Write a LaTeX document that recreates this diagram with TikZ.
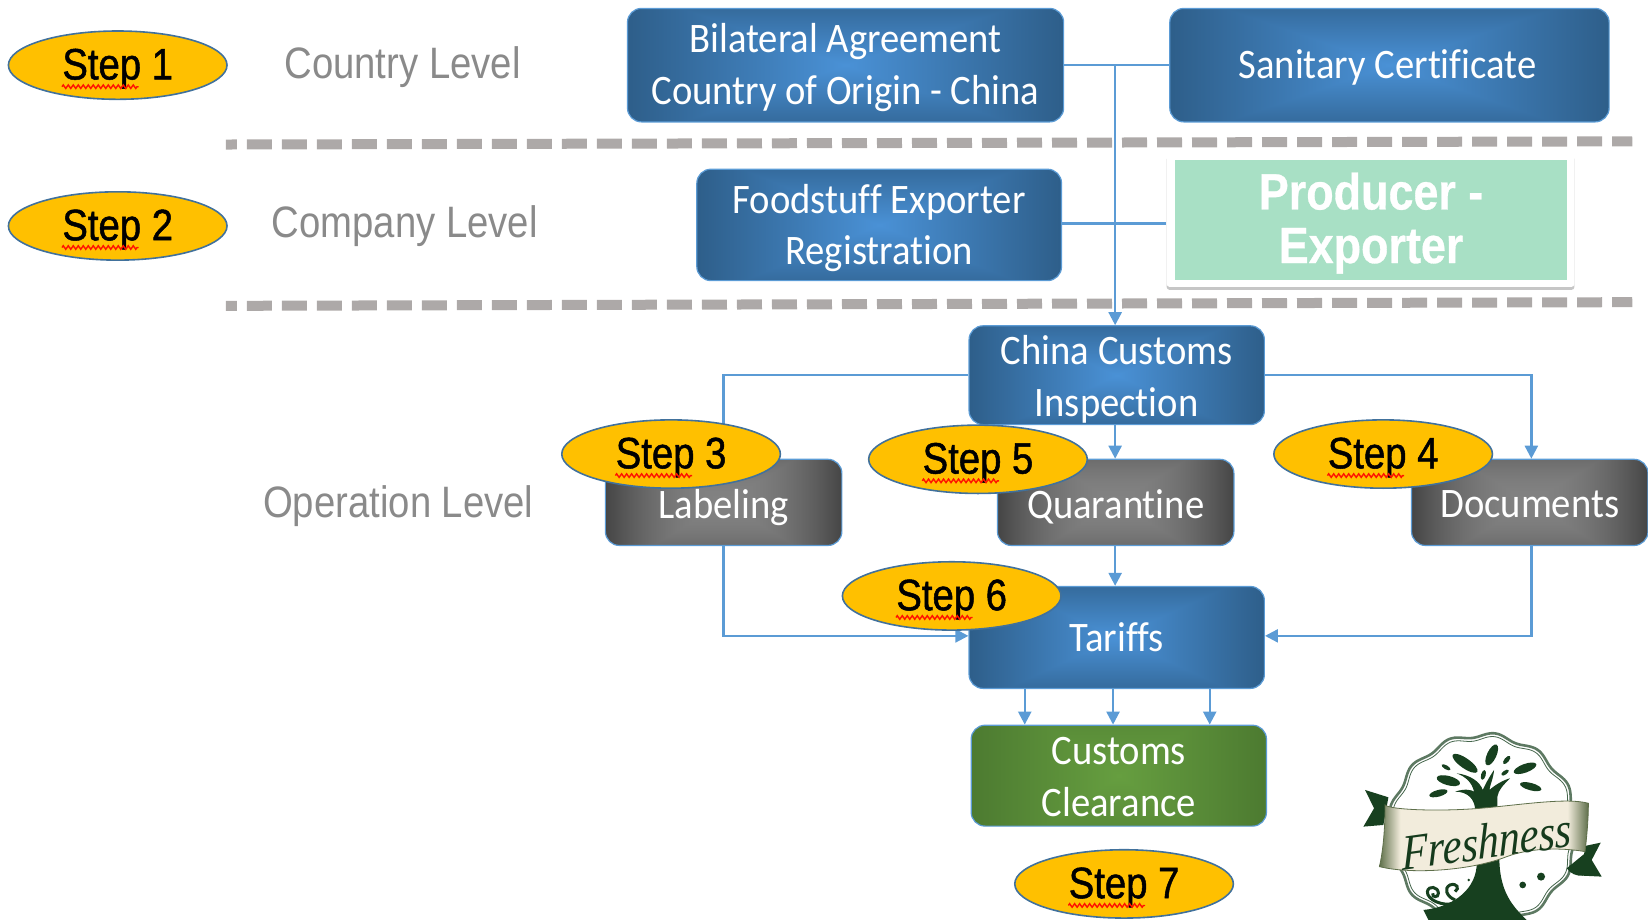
\documentclass[tikz,border=0pt]{standalone}
\usepackage{fontspec}
\usetikzlibrary{arrows.meta,shapes.geometric,shadows,decorations.pathmorphing,calc}
\setmainfont{Liberation Sans}
\newfontfamily\boxfont[FakeStretch=.92,Ligatures=NoCommon]{Carlito}
\newfontfamily\armfont[FakeStretch=.87]{Liberation Sans}
\newfontfamily\profont[FakeStretch=.88]{Liberation Sans}
\newfontfamily\logofont[FakeStretch=.85,FakeSlant=.12]{Liberation Serif Italic}
\definecolor{wire}{HTML}{5B9BD5}
\definecolor{stepfill}{HTML}{FFC000}
\definecolor{stepline}{HTML}{41719C}
\definecolor{dashgrey}{HTML}{ADA9A8}
\definecolor{leveltext}{HTML}{8A8A8A}
\definecolor{prog}{HTML}{A8E0C5}
\definecolor{logogreen}{HTML}{17401F}
\definecolor{logocream}{HTML}{F2ECDC}
\definecolor{logoedge}{HTML}{5E6F4A}
\pgfdeclarefunctionalshading{boxblue}{\pgfpointorigin}{\pgfpoint{100bp}{100bp}}{}{
  50 sub abs 25 div 0.75 mul exch 50 sub abs 25 div 2 copy lt {exch} if pop
  dup dup -0.30 mul 0.84 add exch -0.20 mul 0.57 add exch 3 -1 roll -0.11 mul 0.29 add 3 1 roll
}
\pgfdeclarefunctionalshading{boxgrey}{\pgfpointorigin}{\pgfpoint{100bp}{100bp}}{}{
  50 sub abs 25 div 0.6 mul exch 50 sub abs 25 div 2 copy lt {exch} if pop
  dup mul -0.24 mul 0.51 add dup dup
}
\pgfdeclarefunctionalshading{boxgreen}{\pgfpointorigin}{\pgfpoint{100bp}{100bp}}{}{
  50 sub abs 25 div 0.5 mul exch 50 sub abs 25 div 2 copy lt {exch} if pop
  dup dup -0.06 mul 0.25 add exch -0.14 mul 0.62 add exch 3 -1 roll -0.10 mul 0.40 add 3 1 roll
}
\pgfdeclarehorizontalshading{bannershade}{100bp}{color(0bp)=(logoedge);color(25bp)=(logoedge);color(30bp)=(logocream);color(70bp)=(logocream);color(75bp)=(logoedge);color(100bp)=(logoedge)}
\newcommand{\bt}[2]{\raisebox{#1}[0pt][0pt]{\begin{tabular}{@{}c@{}}#2\end{tabular}}}
\tikzset{
  flowbox/.style 2 args={rectangle,rounded corners=14pt,draw=wire,line width=1.2pt,inner sep=0pt,
    minimum width=#1*1.051pt,minimum height=#2*1.051pt,text=white,
    font=\boxfont\fontsize{42}{51.5}\selectfont},
  bluebox/.style={shade,shading=boxblue},
  greybox/.style={shade,shading=boxgrey},
  greenbox/.style={shade,shading=boxgreen},
  stepnode/.style={ellipse,draw=stepline,fill=stepfill,line width=1.6pt,inner sep=0pt,
    minimum width=208*1.051pt,minimum height=65*1.051pt,text=black,
    font=\armfont\fontsize{44}{50}\selectfont},
  squig/.style={draw=red!85!orange,line width=1.4pt,decorate,
    decoration={zigzag,segment length=5pt,amplitude=1.8pt}},
  levelnode/.style={inner sep=0pt,text=leveltext,font=\armfont\fontsize{44}{50}\selectfont},
  wireline/.style={draw=wire,line width=2.4pt},
  wirearrow/.style={wireline,-{Triangle[length=13pt,width=13pt]}},
  sepline/.style={draw=dashgrey,line width=10pt,dash pattern=on 25pt off 10pt,dash phase=14pt}
}
\newcommand{\stepat}[4]{%
  \node[stepnode] (#1) at (#2,#3) {\special{pdf:code 2 Tr 0 0 0 RG 0.5 w}\bt{-10.5pt}{Step #4}\special{pdf:code 0 Tr}};
  \draw[squig] ([shift={(-53,20.5)}]#1.center) -- ++(73,0);
}
\begin{document}
\begin{tikzpicture}[x=1.051pt,y=-1.051pt]
\useasboundingbox (0,0) rectangle (1568,875.4);
% separators
\coordinate (sa) at (215,137.5); \coordinate (sb) at (1553,134.5);
\coordinate (sc) at (215,291); \coordinate (sd) at (1553,287.5);
\draw[sepline] (sa) -- (sb);
\draw[sepline] (sc) -- (sd);
% boxes
\node[flowbox={415}{108},bluebox] (bil) at (804.5,62) {\bt{-9.25pt}{Bilateral Agreement\\Country of Origin - China}};
\node[flowbox={418}{108},bluebox] (san) at (1322,62) {\hspace*{-4pt}\bt{-9.5pt}{Sanitary Certificate}};
\node[flowbox={347}{106},bluebox] (foo) at (836.5,214) {\bt{-10.15pt}{Foodstuff Exporter\\Registration}};
\node[rectangle,rounded corners=3pt,fill=white,minimum width=388*1.051pt,minimum height=127*1.051pt,inner sep=0pt,
  drop shadow={opacity=.45,shadow xshift=0pt,shadow yshift=-3pt}] (prw) at (1304,209.5) {};
\node[rectangle,fill=prog,minimum width=373*1.051pt,minimum height=114*1.051pt,inner sep=0pt,text=white,
  font=\profont\bfseries\fontsize{51}{53.6}\selectfont] (pro) at (1304.5,209)
  {\special{pdf:code 2 Tr 1 1 1 RG 1 1 1 rg 0.3 w}\bt{-12.1pt}{Producer -\\Exporter}\special{pdf:code 0 Tr}};
\node[flowbox={281}{94},bluebox] (cus) at (1062.5,357) {\bt{-11pt}{China Customs\\Inspection}};
\node[flowbox={225}{82},greybox] (lab) at (688.5,478) {\bt{-12.3pt}{Labeling}};
\node[flowbox={225}{82},greybox] (qua) at (1061.5,478) {\bt{-12.3pt}{Quarantine}};
\node[flowbox={225}{82},greybox] (doc) at (1455.5,478) {\bt{-11.2pt}{Documents}};
\node[flowbox={281}{97},bluebox] (tar) at (1062.5,606.5) {\bt{-9.7pt}{Tariffs}};
\node[flowbox={281}{96},greenbox] (cle) at (1064.5,738) {\bt{-10.85pt}{Customs\\Clearance}};
% connectors
\coordinate (ja) at (975,0); \coordinate (jb) at (1059,0); \coordinate (jc) at (1151,0);
\coordinate (jd) at (1061,0); \coordinate (jr) at (1457,0);
\coordinate (jf) at (0,212.5); \coordinate (jy) at (0,605);
\draw[wireline] (bil.east) -- (san.west);
\draw[wireline] (foo.west |- jf) ++(347,0) -- (prw.west |- jf);
\draw[wirearrow] (bil.east -| jd) -- (cus.north -| jd);
\draw[wirearrow] (cus.west) -| (lab.north);
\draw[wirearrow] (cus.east) -| (doc.north -| jr);
\draw[wirearrow] (cus.south -| jd) -- (qua.north -| jd);
\draw[wirearrow] (qua.south -| jd) -- (tar.north -| jd);
\draw[wirearrow] (lab.south) -- (lab.south |- jy) -- (tar.west |- jy);
\draw[wirearrow] (doc.south -| jr) -- (jr |- jy) -- (tar.east |- jy);
\draw[wirearrow] (tar.south -| ja) -- (cle.north -| ja);
\draw[wirearrow] (tar.south -| jb) -- (cle.north -| jb);
\draw[wirearrow] (tar.south -| jc) -- (cle.north -| jc);
% levels
\node[levelnode] (lv1) at (383,64) {Country Level};
\node[levelnode] (lv2) at (385,215) {Company Level};
\node[levelnode] (lv3) at (379,482) {Operation Level};
% steps
\stepat{s1}{112}{62}{1}
\stepat{s2}{112}{215}{2}
\stepat{s3}{638.5}{432}{3}
\stepat{s5}{930.5}{437}{5}
\stepat{s4}{1316}{432}{4}
\stepat{s6}{905.5}{567}{6}
\stepat{s7}{1069.5}{841}{7}
% logo
\begin{scope}[shift={(1275,675.5)},x=.3333pt,y=-.3333pt]
  \clip (0,0) rectangle (924,630);
  % ribbon tails
  \fill[logogreen] (75,240) -- (145,262) -- (130,345) -- (70,350) -- (102,295) -- cycle;
  \fill[logogreen] (735,408) -- (782,398) -- (755,450) -- (785,500) -- (725,497) -- cycle;
  % badge
  \draw[draw=logogreen!70!white,fill=white,line width=2.6pt] plot[smooth cycle,domain=0:357,samples=120]
    ({430+(280+7*cos(13*\x))*cos(\x)},{360+(285+7*cos(13*\x))*sin(\x)});
  \draw[draw=logogreen!80!white,line width=.8pt] plot[smooth cycle,domain=0:357,samples=120]
    ({430+(270+7*cos(13*\x))*cos(\x)},{360+(275+7*cos(13*\x))*sin(\x)});
  % tree crown
  \foreach \px/\py/\ra/\rb/\ro in {375/160/45/15/-35,455/135/34/14/65,500/150/15/7/50,555/175/36/13/20,
    495/188/13/6/35,430/195/15/7/75,318/172/15/6/-30,325/212/36/14/-15,295/250/28/10/15,572/230/33/11/-15}
    \fill[logogreen] (\px,\py) ellipse [x radius=\ra,y radius=\rb,rotate=\ro];
  \fill[logogreen] (405,300) .. controls (405,270) and (385,245) .. (345,245)
    .. controls (375,235) and (395,240) .. (402,245) .. controls (395,215) and (375,200) .. (350,190)
    .. controls (390,195) and (420,215) .. (428,240) .. controls (435,225) and (445,205) .. (462,180)
    .. controls (460,205) and (450,225) .. (448,240) .. controls (465,225) and (490,210) .. (510,205)
    .. controls (490,225) and (475,240) .. (472,260) -- (472,300) -- cycle;
  % trunk
  \fill[logogreen] (410,460) .. controls (410,530) and (350,590) .. (250,600) -- (270,640) -- (570,640)
    .. controls (530,600) and (480,560) .. (478,450) -- cycle;
  \draw[logogreen,line width=3pt] (340,580) .. controls (310,590) and (260,570) .. (262,545)
    .. controls (265,525) and (295,530) .. (295,550) .. controls (295,565) and (275,562) .. (278,550);
  \draw[logogreen,line width=3pt] (345,570) .. controls (320,560) and (310,535) .. (330,525)
    .. controls (350,518) and (360,535) .. (345,545);
  \fill[logogreen] (386,510) circle (4);
  \fill[logogreen] (548,525) circle (10);
  \fill[logogreen] (603,500) circle (12);
  \fill[logogreen] (680,475) -- (735,430) -- (730,497) .. controls (710,500) and (690,490) .. (680,475) -- cycle;
  % banner
  \path[shade,shading=bannershade,draw=logoedge,line width=.8pt] (135,285) .. controls (150,300) and (300,305) .. (420,295)
    .. controls (540,285) and (680,262) .. (745,280) .. controls (745,330) and (740,380) .. (735,425)
    .. controls (680,415) and (580,410) .. (500,440) .. controls (400,480) and (220,495) .. (118,470)
    .. controls (130,420) and (135,350) .. (135,285) -- cycle;
  \node[inner sep=0pt,rotate=8,text=logogreen!90!black,font=\logofont\fontsize{50}{54}\selectfont] (fresh) at (435,395) {Freshness};
\end{scope}
\end{tikzpicture}
\end{document}
